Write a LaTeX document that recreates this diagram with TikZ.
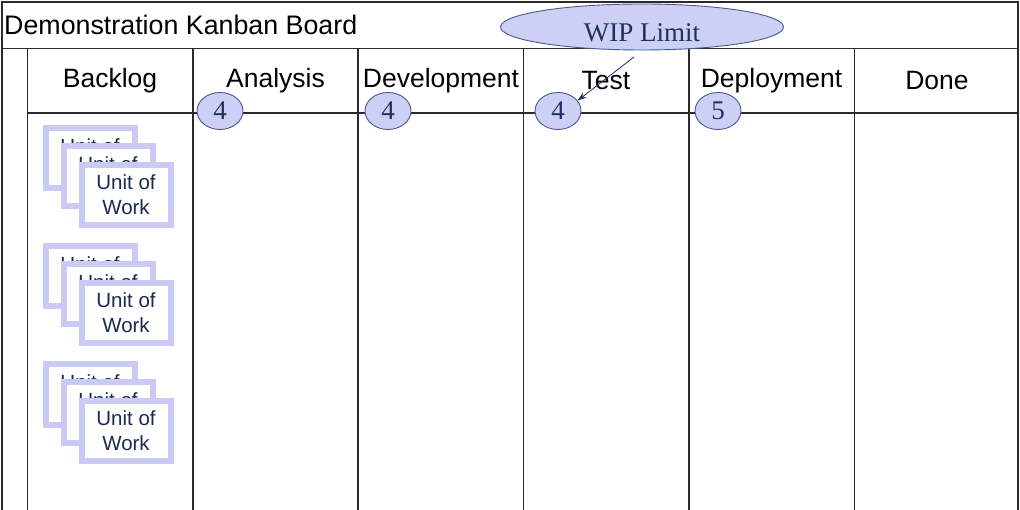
\documentclass[tikz,border=0pt]{standalone}
\usepackage{fontspec}
\setmainfont{Liberation Sans}
\newfontfamily\serifwip{Liberation Serif}
\usetikzlibrary{shapes.geometric,arrows.meta}
\definecolor{gridline}{HTML}{2A2A2A}
\definecolor{wipfill}{HTML}{CCD0F5}
\definecolor{wipdraw}{HTML}{4A5A8A}
\definecolor{wiptext}{HTML}{1F2F60}
\definecolor{cardborder}{HTML}{CACAF4}
\definecolor{cardtext}{HTML}{1A2A50}
\tikzset{
  board/.style={draw=gridline, line width=1.6pt},
  colhead/.style={font=\fontsize{26.5}{30}\selectfont, text=black, inner sep=0pt},
  wiplimit/.style={ellipse, draw=wipdraw, fill=wipfill, line width=0.9pt, minimum width=46pt, minimum height=37pt, inner sep=0pt, text=wiptext, font=\serifwip\fontsize{27}{30}\selectfont},
  wipbig/.style={ellipse, draw=wipdraw, fill=wipfill, line width=0.9pt, minimum width=283pt, minimum height=46pt, inner sep=0pt, text height=29pt, text depth=0pt, text=wiptext, font=\serifwip\fontsize{27}{30}\selectfont},
  card/.style={draw=cardborder, fill=white, line width=6pt, minimum width=89pt, minimum height=60pt, inner sep=0pt, align=center, text=cardtext, font=\fontsize{20.5}{25}\selectfont},
}
\begin{document}
\begin{tikzpicture}[x=1pt,y=-1pt]
\useasboundingbox (0,0) rectangle (1020,510);
\fill[white] (0,0) rectangle (1020,510);
% outer frame and grid
\draw[board] (2,512) -- (2,2) -- (1018,2) -- (1018,512);
\draw[board] (2,48.5) -- (1018,48.5);
\draw[board] (27.5,48.5) -- (27.5,512);
\draw[board] (27.5,113) -- (1018,113);
\foreach \x in {193,358,523.5,689,854.5}{
  \draw[board] (\x,48.5) -- (\x,512);
}
% title
\node[anchor=west, font=\fontsize{26.8}{30}\selectfont, inner sep=0pt] (title) at (4,24.5) {Demonstration Kanban Board};
% column headers
\node[colhead] (hbacklog) at (110,81) {Backlog};
\node[colhead] (hanalysis) at (275.5,81) {Analysis};
\node[colhead] (hdev) at (441,81) {Development};
\node[colhead] (htest) at (606,81) {Test};
\node[colhead] (hdeploy) at (771.5,81) {Deployment};
\node[colhead] (hdone) at (937,81) {Done};
% WIP limits
\node[wiplimit] (w1) at (220,111) {4};
\node[wiplimit] (w2) at (388,111) {4};
\node[wiplimit] (w3) at (558,111) {4};
\node[wiplimit] (w4) at (718,111) {5};
\node[wipbig] (wip) at (642,27) {WIP Limit};
\coordinate (wipfrom) at (634,57);
\draw[-{Stealth[length=9pt,width=6pt]}, draw=wiptext, line width=0.8pt] (wipfrom) -- (w3.28);
% cards
\foreach \dy/\g in {0/a,118/b,236/c}{
  \node[card] (card\g1) at (90,158.5+\dy) {Unit of\\Work};
  \node[card] (card\g2) at (108,176.5+\dy) {Unit of\\Work};
  \node[card] (card\g3) at (126,195+\dy) {Unit of\\Work};
}
\end{tikzpicture}
\end{document}
